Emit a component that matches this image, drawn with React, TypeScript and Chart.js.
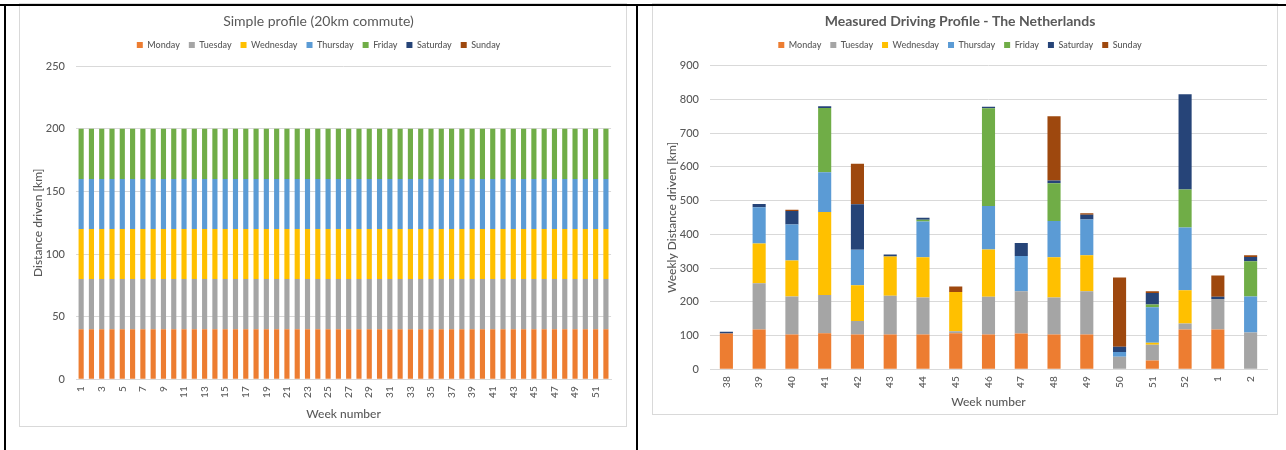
import React, { useEffect, useRef } from 'react';
import { Chart, registerables } from 'chart.js';

Chart.register(...registerables);

const FONT = 'Lato, "Open Sans", sans-serif';
const TEXT = '#595959';
const GRID = '#D9D9D9';
const TEXT_WEIGHT = '500';

const dayNames = ['Monday', 'Tuesday', 'Wednesday', 'Thursday', 'Friday', 'Saturday', 'Sunday'];
const dayColors = ['#ED7D31', '#A5A5A5', '#FFC000', '#5B9BD5', '#70AD47', '#264478', '#9E480E'];

// Simple profile: 52 weeks, 2 x 20 km on every working day, nothing at the weekend
const simpleWeeks = [
  '1', '2', '3', '4', '5', '6', '7', '8', '9', '10', '11', '12', '13',
  '14', '15', '16', '17', '18', '19', '20', '21', '22', '23', '24', '25', '26',
  '27', '28', '29', '30', '31', '32', '33', '34', '35', '36', '37', '38', '39',
  '40', '41', '42', '43', '44', '45', '46', '47', '48', '49', '50', '51', '52',
];
const commuteKm = [
  40, 40, 40, 40, 40, 40, 40, 40, 40, 40, 40, 40, 40,
  40, 40, 40, 40, 40, 40, 40, 40, 40, 40, 40, 40, 40,
  40, 40, 40, 40, 40, 40, 40, 40, 40, 40, 40, 40, 40,
  40, 40, 40, 40, 40, 40, 40, 40, 40, 40, 40, 40, 40,
];
const weekendKm = [
  0, 0, 0, 0, 0, 0, 0, 0, 0, 0, 0, 0, 0,
  0, 0, 0, 0, 0, 0, 0, 0, 0, 0, 0, 0, 0,
  0, 0, 0, 0, 0, 0, 0, 0, 0, 0, 0, 0, 0,
  0, 0, 0, 0, 0, 0, 0, 0, 0, 0, 0, 0, 0,
];

// Measured profile, weeks 38 to 2
const measuredWeeks = ['38', '39', '40', '41', '42', '43', '44', '45', '46', '47', '48', '49', '50', '51', '52', '1', '2'];
const mondayKm = [106, 118, 103, 107, 103, 103, 103, 107, 103, 106, 103, 103, 0, 26, 118, 118, 0];
const tuesdayKm = [0, 137, 113, 113, 40, 115, 110, 6, 112, 125, 110, 128, 37, 47, 18, 90, 109];
const wednesdayKm = [0, 118, 106, 246, 106, 116, 119, 116, 140, 0, 119, 107, 0, 6, 98, 0, 0];
const thursdayKm = [0, 107, 107, 118, 105, 0, 106, 0, 129, 105, 107, 106, 14, 105, 186, 0, 107];
const fridayKm = [0, 0, 0, 190, 0, 0, 5, 0, 289, 0, 112, 0, 0, 8, 113, 0, 104];
const saturdayKm = [5, 10, 40, 5, 135, 6, 6, 0, 5, 38, 8, 14, 16, 34, 282, 7, 13];
const sundayKm = [0, 0, 4, 0, 120, 0, 0, 16, 0, 0, 191, 4, 205, 5, 0, 63, 5];

const simpleSeries = [commuteKm, commuteKm, commuteKm, commuteKm, commuteKm, weekendKm, weekendKm];
const measuredSeries = [mondayKm, tuesdayKm, wednesdayKm, thursdayKm, fridayKm, saturdayKm, sundayKm];

type Spec = {
  labels: string[];
  series: number[][];
  title: string;
  titleWeight: string;
  yTitle: string;
  yMax: number;
  yStep: number;
  yWidth: number;
  xHeight: number;
  padRight: number;
  yTitlePad: number;
  spacer: number;
  barPct: number;
  everyOther: boolean;
  width: number;
  height: number;
};

function buildConfig(s: Spec): any {
  return {
    type: 'bar',
    data: {
      labels: s.labels,
      datasets: s.series.map((values, i) => ({
        label: dayNames[i],
        data: values,
        backgroundColor: dayColors[i],
        borderWidth: 0,
        barPercentage: s.barPct,
        categoryPercentage: 1,
      })),
    },
    options: {
      responsive: false,
      animation: false,
      events: [],
      layout: { padding: { left: 0, right: s.padRight, top: 0, bottom: 0 } },
      plugins: {
        tooltip: { enabled: false },
        title: {
          display: true,
          text: s.title,
          color: TEXT,
          font: { family: FONT, size: 14, weight: s.titleWeight },
          padding: { top: 7.3, bottom: 1.5 },
        },
        legend: {
          display: true,
          position: 'top',
          labels: {
            color: TEXT,
            font: { family: FONT, size: 9, weight: TEXT_WEIGHT },
            boxWidth: 6,
            boxHeight: 6,
            padding: 9,
          },
        },
        subtitle: {
          display: true,
          position: 'top',
          weight: 500,
          text: '',
          font: { size: 1 },
          padding: { top: s.spacer, bottom: 0 },
        },
      },
      scales: {
        x: {
          stacked: true,
          afterFit: (scale: any) => {
            scale.height = s.xHeight;
          },
          grid: { display: false, drawTicks: false },
          border: { display: true, color: GRID },
          ticks: {
            color: TEXT,
            font: { family: FONT, size: 10, weight: TEXT_WEIGHT },
            autoSkip: false,
            minRotation: 90,
            maxRotation: 90,
            padding: 7,
            callback: function (this: any, _v: any, index: number) {
              if (s.everyOther && index % 2 === 1) return '';
              return s.labels[index];
            },
          },
          title: {
            display: true,
            text: 'Week number',
            color: TEXT,
            font: { family: FONT, size: 12, weight: TEXT_WEIGHT },
            padding: { top: 0, bottom: 3.4 },
          },
        },
        y: {
          stacked: true,
          min: 0,
          max: s.yMax,
          afterFit: (scale: any) => {
            scale.width = s.yWidth;
          },
          grid: { color: GRID, drawTicks: false },
          border: { display: false },
          ticks: {
            color: TEXT,
            font: { family: FONT, size: 11, weight: TEXT_WEIGHT },
            stepSize: s.yStep,
            padding: 11,
          },
          title: {
            display: true,
            text: s.yTitle,
            color: TEXT,
            font: { family: FONT, size: 12, weight: TEXT_WEIGHT },
            padding: { top: s.yTitlePad, bottom: 0 },
          },
        },
      },
    },
  };
}

function BarChart({ spec }: { spec: Spec }) {
  const ref = useRef<HTMLCanvasElement | null>(null);
  useEffect(() => {
    if (!ref.current) return;
    const chart = new Chart(ref.current, buildConfig(spec));
    return () => chart.destroy();
  }, [spec]);
  return <canvas ref={ref} width={spec.width} height={spec.height} style={{ display: 'block' }} />;
}

const simpleSpec: Spec = {
  labels: simpleWeeks,
  series: simpleSeries,
  title: 'Simple profile (20km commute)',
  titleWeight: 'normal',
  yTitle: 'Distance driven [km]',
  yMax: 250,
  yStep: 50,
  yWidth: 56,
  xHeight: 45.7,
  padRight: 8,
  yTitlePad: 10.8,
  spacer: 5.4,
  barPct: 0.5,
  everyOther: true,
  width: 605,
  height: 419,
};

const measuredSpec: Spec = {
  labels: measuredWeeks,
  series: measuredSeries,
  title: 'Measured Driving Profile - The Netherlands',
  titleWeight: 'bold',
  yTitle: 'Weekly Distance driven [km]',
  yMax: 900,
  yStep: 100,
  yWidth: 57,
  xHeight: 43.7,
  padRight: 9,
  yTitlePad: 11.8,
  spacer: 4.7,
  barPct: 0.4,
  everyOther: false,
  width: 623,
  height: 407,
};

export default function App() {
  const frame: React.CSSProperties = {
    position: 'absolute',
    border: '1px solid #D9D9D9',
    background: '#fff',
    boxSizing: 'border-box',
  };
  const rule: React.CSSProperties = { position: 'absolute', background: '#000', zIndex: 2 };
  return (
    <div style={{ position: 'fixed', left: 0, top: 0, width: 1286, height: 450, background: '#fff', overflow: 'hidden' }}>
      <div style={{ ...frame, left: 19, top: 3, width: 608, height: 424 }}>
        <div style={{ position: 'absolute', left: 0, top: 2 }}>
          <BarChart spec={simpleSpec} />
        </div>
      </div>
      <div style={{ ...frame, left: 652, top: 3, width: 626, height: 412 }}>
        <div style={{ position: 'absolute', left: 0, top: 2 }}>
          <BarChart spec={measuredSpec} />
        </div>
      </div>
      <div style={{ ...rule, left: 0, top: 4, width: 1286, height: 2 }} />
      <div style={{ ...rule, left: 4, top: 4, width: 2, height: 446 }} />
      <div style={{ ...rule, left: 636, top: 4, width: 2, height: 446 }} />
    </div>
  );
}
